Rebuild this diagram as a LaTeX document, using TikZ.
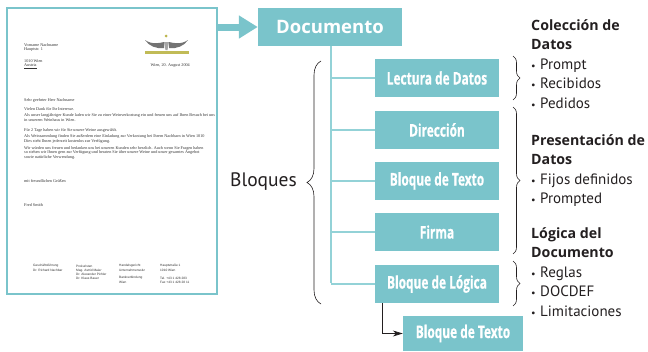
\documentclass[tikz,border=0pt]{standalone}
\usepackage{xcolor}
\usepackage{fontspec}
\usetikzlibrary{arrows.meta,decorations.pathreplacing}
\setmainfont{PT Sans}
\newfontfamily\heavyfont{Open Sans}
\newfontfamily\narrowfont[FakeStretch=0.68,FakeBold=0.6]{Open Sans}
\newfontfamily\letterfont{Liberation Serif}
\newfontfamily\footfont{Liberation Sans}
\definecolor{tealbox}{HTML}{7AC4CB}
\definecolor{teallink}{HTML}{93D2D7}
\definecolor{inktext}{HTML}{231F20}
\newcommand{\headline}[1]{{\heavyfont\bfseries\fontsize{14.2}{19.6}\selectfont #1}}
\newcommand{\listitem}[1]{\makebox[9pt][l]{\fontsize{10}{10}\selectfont\textbullet}#1}
\tikzset{blockbox/.style={fill=tealbox,text=white,minimum width=124,minimum height=38,inner sep=0,font={\narrowfont\bfseries\fontsize{17.5}{20}\selectfont}}}
\tikzset{link/.style={draw=teallink,line width=1.2}}
\tikzset{bracket/.style={draw=inktext,line width=0.6,decorate,decoration={brace,amplitude=#1}}}
\tikzset{bracket/.default={7}}
\tikzset{sidelist/.style={anchor=north west,inner sep=0,align=left,text=inktext,font={\fontsize{15}{19.6}\selectfont}}}
\tikzset{lettertext/.style={anchor=west,inner sep=0,text=black!80,font={\letterfont\fontsize{4.2}{4.5}\selectfont}}}
\begin{document}
\begin{tikzpicture}[x=1pt,y=-1pt]
    \useasboundingbox (0,0) rectangle (648,351);
    % letter
    \node[draw=tealbox,line width=1.5,fill=white,minimum width=210,minimum height=286,inner sep=0] (letter) at (112,151) {};
    \foreach \i\j\k in {a/45/Vorname Nachname, b/50/Hauptstr. 1, c/61/1010 Wien, d/66/\underline{Austria}, e/100/Sehr geehrter Herr Nachname, f/109/Vielen Dank für Ihr Interesse.,
        g/115/Als unser langjähriger Kunde laden wir Sie zu einer Weinverkostung ein und freuen uns auf Ihren Besuch bei uns,
        h/120/in unserem Weinhaus in Wien.,
        i/130/Für 2 Tage haben wir für Sie unsere Weine ausgewählt.,
        j/136/Als Weinsammlung finden Sie außerdem eine Einladung zur Verkostung bei Ihrem Nachbarn in Wien 1010,
        k/141/Dies steht Ihnen jederzeit kostenlos zur Verfügung.,
        l/148/Wir würden uns freuen und bedanken uns bei unseren Kunden sehr herzlich. Auch wenn Sie Fragen haben,
        m/152/so stehen wir Ihnen gern zur Verfügung und beraten Sie über unsere Weine und unser gesamtes Angebot,
        n/157/sowie natürliche Verwendung.,
        o/181/mit freundlichen Grüßen, p/205/Fred Smith}{
        \node[lettertext] (line\i) at (24,\j) {\k};
    }
    \node[lettertext,anchor=east] (date) at (190,66) {Wien, 20. August 2004};
    % logo
    \fill[black!55] (145,40) .. controls (152,45) and (160,43) .. (164,42) -- (164,48) .. controls (156,49) and (149,46) .. (145,40);
    \fill[black!55] (188,40) .. controls (181,45) and (173,43) .. (169,42) -- (169,48) .. controls (177,49) and (184,46) .. (188,40);
    \fill[olive!55] (145,50.5) rectangle (189,53.5);
    \fill[olive!60] (166,36) circle (1.5);
    \fill[black!35] (164,42) -- (169,42) -- (167.5,50) -- (165.5,50) -- cycle;
    \foreach \i\j\k\l in {a/33/266/Geschäftsführung, b/33/270.5/Dr. Richard Nachbar, c/76/266/Prokuristen, d/76/270.5/Mag. Astrid Maier, e/76/274/Dr. Alexander Pichler, f/76/278/Dr. Klaus Bauer,
        g/119/266/Handelsgericht, h/119/270.5/Unternehmenssitz, i/119/278/Bankverbindung, j/119/282/Wien,
        k/160/266/Hauptstraße 1, l/160/270.5/1010 Wien, m/160/278/Tel. +43 1 428 283, n/160/282/Fax +43 1 428 28 11}{
        \node[lettertext,font={\footfont\fontsize{3.2}{3.5}\selectfont}] (foot\i) at (\j,\k) {\l};
    }
    % blocks
    \node[fill=tealbox,text=white,minimum width=144,minimum height=38,inner sep=0,font={\heavyfont\bfseries\fontsize{18.5}{22}\selectfont}] (documento) at (330,27) {Documento};
    \coordinate (trunk) at (331,283);
    \draw[link] (documento.south -| trunk) -- (trunk);
    \foreach \i\j\k in {lectura/78/Lectura de Datos, direccion/130/Dirección, texto/181/Bloque de Texto, firma/232/Firma, logica/284/Bloque de Lógica}{
        \node[blockbox] (\i) at (437,\j) {\k};
        \draw[link] (trunk |- \i.west) -- (\i.west);
    }
    \node[blockbox,minimum width=120,minimum height=35] (textodos) at (463,333.5) {Bloque de Texto};
    \coordinate (elbow) at (382,303);
    \draw[-{Stealth[length=10,width=6]},draw=inktext,line width=0.7] (elbow) |- (textodos.west);
    \draw[draw=tealbox,line width=7,-{Triangle[length=19,width=22]}] (letter.east |- documento) -- (documento.west);
    % braces
    \node[anchor=east,inner sep=0,text=inktext,font={\fontsize{19.5}{20}\selectfont}] (bloques) at (297,182) {Bloques};
    \coordinate (bigtop) at (321,61);
    \coordinate (bigbot) at (321,304);
    \draw[bracket=14] (bigbot) -- (bigtop);
    \foreach \i\j\k in {a/56/100, b/107/254, c/261/306}{
        \coordinate (top\i) at (513,\j);
        \coordinate (bot\i) at (513,\k);
        \draw[bracket] (top\i) -- (bot\i);
    }
    % lists
    \node[sidelist] (coleccion) at (531,19) {\headline{Colección de}\\\headline{Datos}\\\listitem{Prompt}\\\listitem{Recibidos}\\\listitem{Pedidos}};
    \node[sidelist] (presentacion) at (531,134) {\headline{Presentación de}\\\headline{Datos}\\\listitem{Fijos definidos}\\\listitem{Prompted}};
    \node[sidelist] (logicadoc) at (531,227) {\headline{Lógica del}\\\headline{Documento}\\\listitem{Reglas}\\\listitem{DOCDEF}\\\listitem{Limitaciones}};
\end{tikzpicture}
\end{document}
